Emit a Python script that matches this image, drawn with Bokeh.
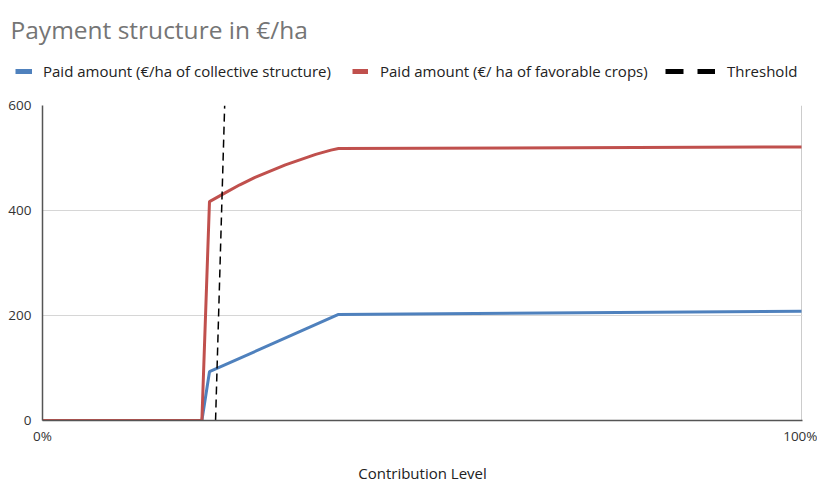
from bokeh.plotting import figure
from bokeh.layouts import column
from bokeh.models import Label, Legend, LegendItem, FixedTicker, Range1d
from bokeh.embed import file_html
from bokeh.resources import INLINE

# ---- data (x in % of contribution level, y in €/ha) ----
collective_x = [0, 21, 22, 39, 100]
collective_y = [0, 0, 93, 202, 208]

favorable_x = [0, 21, 22, 24, 26, 28, 30, 32, 34, 36, 38, 39, 100]
favorable_y = [0, 0, 417, 433, 449, 463, 475, 487, 497, 507, 515, 518, 521]

threshold_x = [22.8, 24]
threshold_y = [0, 600]

x_ticks = [0, 100]
x_tick_labels = {0: "0%", 100: "100%"}
y_ticks = [0, 200, 400, 600]

title_text = "Payment structure in €/ha"
series_names = ["Paid amount (€/ha of collective structure)",
                "Paid amount (€/ ha of favorable crops)",
                "Threshold"]
x_title = "Contribution Level"

BLUE = "#4F81BD"
RED = "#C0504D"
FONT = "Open Sans"

# ---------- header (title + legend) ----------
hdr = figure(width=817, height=90, output_backend="svg", toolbar_location=None,
             x_range=Range1d(0, 1), y_range=Range1d(0, 1),
             min_border=0, min_border_left=0, min_border_right=0,
             min_border_top=0, min_border_bottom=0)
hdr.frame_align = False
hdr.axis.visible = False
hdr.grid.visible = False
hdr.outline_line_color = None
hdr.background_fill_color = "white"
hdr.border_fill_color = "white"

hdr.add_layout(Label(x=10, y=61, x_units="screen", y_units="screen", text=title_text,
                     text_font=FONT, text_font_size="24.5px", text_color="#757575",
                     text_baseline="alphabetic"))

# legend-only renderers (their points lie outside the header's visible range)
off_x = [5, 6]
off_y = [5, 6]
sw_blue = hdr.line(off_x, off_y, line_color=BLUE, line_width=5)
sw_red = hdr.line(off_x, off_y, line_color=RED, line_width=5)
sw_thr = hdr.line(off_x, off_y, line_color="black", line_width=5, line_dash="18 14")

def add_legend(label, renderer, x, glyph_w, standoff):
    lg = Legend(items=[LegendItem(label=label, renderers=[renderer])],
                location=(x, 9), orientation="horizontal",
                glyph_width=glyph_w, glyph_height=20, label_height=20,
                label_standoff=standoff,
                label_text_font=FONT, label_text_font_size="15px",
                label_text_color="#222222", padding=0, margin=0, spacing=0,
                border_line_color=None, background_fill_alpha=0)
    hdr.add_layout(lg, "center")

add_legend(series_names[0], sw_blue, 15, 17, 11)
add_legend(series_names[1], sw_red, 352, 16, 12)
add_legend(series_names[2], sw_thr, 665, 50, 12)

# ---------- main chart ----------
p = figure(width=817, height=395, output_backend="svg", toolbar_location=None,
           x_range=Range1d(0, 100.13), y_range=Range1d(0, 600),
           min_border_left=42, min_border_right=15, min_border_top=15, min_border_bottom=65)
p.frame_align = False
p.outline_line_color = None
p.background_fill_color = "white"
p.border_fill_color = "white"

p.xaxis.ticker = FixedTicker(ticks=x_ticks)
p.xaxis.major_label_overrides = x_tick_labels
p.yaxis.ticker = FixedTicker(ticks=y_ticks)
for ax in (p.xaxis[0], p.yaxis[0]):
    ax.major_tick_line_color = None
    ax.minor_tick_line_color = None
    ax.axis_line_color = "#555555"
    ax.axis_line_width = 1.5
    ax.major_label_text_font = FONT
    ax.major_label_text_font_size = "13.5px"
    ax.major_label_text_color = "#333333"
p.yaxis.major_label_standoff = 5
p.xaxis.major_label_standoff = 0
p.xaxis.axis_label = x_title
p.xaxis.axis_label_text_font = FONT
p.xaxis.axis_label_text_font_size = "15px"
p.xaxis.axis_label_text_font_style = "normal"
p.xaxis.axis_label_text_color = "#222222"
p.xaxis.axis_label_standoff = 15

p.xgrid.ticker = FixedTicker(ticks=x_ticks)
p.xgrid.grid_line_color = "#cccccc"
p.ygrid.ticker = FixedTicker(ticks=y_ticks)
p.ygrid.grid_line_color = "#d6d6d6"

p.line(collective_x, collective_y, line_color=BLUE, line_width=3)
p.line(favorable_x, favorable_y, line_color=RED, line_width=3)
p.line(threshold_x, threshold_y, line_color="black", line_width=1.5, line_dash="8 5")

layout = column(hdr, p, spacing=0)
open("out.html", "w").write(file_html(layout, INLINE))
